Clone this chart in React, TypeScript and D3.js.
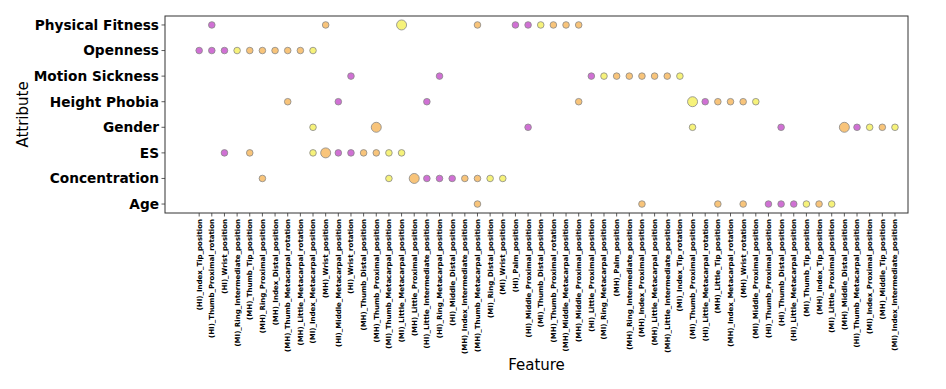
import React from 'react';
import * as d3 from 'd3';

// attributes top to bottom
const attributes = ['Physical Fitness', 'Openness', 'Motion Sickness', 'Height Phobia', 'Gender', 'ES', 'Concentration', 'Age'];

// x categories in axis order
const features = [
  '(HI)_Index_Tip_position', '(HI)_Thumb_Proximal_rotation', '(HI)_Wrist_position', '(MI)_Ring_Intermediate_position',
  '(MH)_Thumb_Tip_position', '(MH)_Ring_Proximal_position', '(MH)_Index_Distal_position', '(MH)_Thumb_Metacarpal_rotation',
  '(MH)_Little_Metacarpal_rotation', '(MI)_Index_Metacarpal_position', '(MH)_Wrist_position', '(HI)_Middle_Metacarpal_position',
  '(HI)_Wrist_rotation', '(MH)_Thumb_Distal_position', '(MH)_Thumb_Proximal_position', '(MI)_Thumb_Metacarpal_position',
  '(MI)_Little_Metacarpal_position', '(MH)_Little_Proximal_position', '(HI)_Little_Intermediate_position', '(HI)_Ring_Metacarpal_position',
  '(HI)_Middle_Distal_position', '(MH)_Index_Intermediate_position', '(MH)_Thumb_Metacarpal_position', '(MI)_Ring_Distal_position',
  '(MI)_Wrist_position', '(HI)_Palm_position', '(HI)_Middle_Proximal_position', '(MI)_Thumb_Distal_position',
  '(MH)_Thumb_Proximal_rotation', '(MH)_Middle_Metacarpal_position', '(MH)_Middle_Proximal_position', '(HI)_Little_Proximal_position',
  '(MI)_Ring_Metacarpal_position', '(MH)_Palm_position', '(MH)_Ring_Intermediate_position', '(MH)_Index_Proximal_position',
  '(MH)_Little_Metacarpal_position', '(MH)_Little_Intermediate_position', '(MI)_Index_Tip_rotation', '(MI)_Thumb_Proximal_position',
  '(HI)_Little_Metacarpal_rotation', '(MH)_Little_Tip_position', '(MH)_Index_Metacarpal_rotation', '(MH)_Wrist_rotation',
  '(MI)_Middle_Proximal_position', '(HI)_Thumb_Proximal_position', '(HI)_Thumb_Distal_position', '(HI)_Little_Metacarpal_position',
  '(MI)_Thumb_Tip_position', '(MH)_Index_Tip_position', '(MI)_Little_Proximal_position', '(MH)_Middle_Distal_position',
  '(HI)_Thumb_Metacarpal_position', '(MI)_Index_Proximal_position', '(MH)_Middle_Tip_position', '(MI)_Index_Intermediate_position',
];

// top features per attribute
const physicalFitness = ['(HI)_Thumb_Proximal_rotation', '(MH)_Wrist_position', '(MI)_Little_Metacarpal_position', '(MH)_Thumb_Metacarpal_position', '(HI)_Palm_position', '(HI)_Middle_Proximal_position', '(MI)_Thumb_Distal_position', '(MH)_Thumb_Proximal_rotation', '(MH)_Middle_Metacarpal_position', '(MH)_Middle_Proximal_position'];
const openness = ['(HI)_Index_Tip_position', '(HI)_Thumb_Proximal_rotation', '(HI)_Wrist_position', '(MI)_Ring_Intermediate_position', '(MH)_Thumb_Tip_position', '(MH)_Ring_Proximal_position', '(MH)_Index_Distal_position', '(MH)_Thumb_Metacarpal_rotation', '(MH)_Little_Metacarpal_rotation', '(MI)_Index_Metacarpal_position'];
const motionSickness = ['(HI)_Wrist_rotation', '(HI)_Ring_Metacarpal_position', '(HI)_Little_Proximal_position', '(MI)_Ring_Metacarpal_position', '(MH)_Palm_position', '(MH)_Ring_Intermediate_position', '(MH)_Index_Proximal_position', '(MH)_Little_Metacarpal_position', '(MH)_Little_Intermediate_position', '(MI)_Index_Tip_rotation'];
const heightPhobia = ['(MH)_Thumb_Metacarpal_rotation', '(HI)_Middle_Metacarpal_position', '(HI)_Little_Intermediate_position', '(MH)_Middle_Proximal_position', '(MI)_Thumb_Proximal_position', '(HI)_Little_Metacarpal_rotation', '(MH)_Little_Tip_position', '(MH)_Index_Metacarpal_rotation', '(MH)_Wrist_rotation', '(MI)_Middle_Proximal_position'];
const gender = ['(MI)_Index_Metacarpal_position', '(MH)_Thumb_Proximal_position', '(HI)_Middle_Proximal_position', '(MI)_Thumb_Proximal_position', '(HI)_Thumb_Distal_position', '(MH)_Middle_Distal_position', '(HI)_Thumb_Metacarpal_position', '(MI)_Index_Proximal_position', '(MH)_Middle_Tip_position', '(MI)_Index_Intermediate_position'];
const es = ['(HI)_Wrist_position', '(MH)_Thumb_Tip_position', '(MI)_Index_Metacarpal_position', '(MH)_Wrist_position', '(HI)_Middle_Metacarpal_position', '(HI)_Wrist_rotation', '(MH)_Thumb_Distal_position', '(MH)_Thumb_Proximal_position', '(MI)_Thumb_Metacarpal_position', '(MI)_Little_Metacarpal_position'];
const concentration = ['(MH)_Ring_Proximal_position', '(MI)_Thumb_Metacarpal_position', '(MH)_Little_Proximal_position', '(HI)_Little_Intermediate_position', '(HI)_Ring_Metacarpal_position', '(HI)_Middle_Distal_position', '(MH)_Index_Intermediate_position', '(MH)_Thumb_Metacarpal_position', '(MI)_Ring_Distal_position', '(MI)_Wrist_position'];
const age = ['(MH)_Thumb_Metacarpal_position', '(MH)_Index_Proximal_position', '(MH)_Little_Tip_position', '(MH)_Wrist_rotation', '(HI)_Thumb_Proximal_position', '(HI)_Thumb_Distal_position', '(HI)_Little_Metacarpal_position', '(MI)_Thumb_Tip_position', '(MH)_Index_Tip_position', '(MI)_Little_Proximal_position'];

// the few points drawn bigger
const bigPoints = [
  ['Physical Fitness', '(MI)_Little_Metacarpal_position'],
  ['Height Phobia', '(MI)_Thumb_Proximal_position'],
  ['Gender', '(MH)_Thumb_Proximal_position'],
  ['Gender', '(MH)_Middle_Distal_position'],
  ['ES', '(MH)_Wrist_position'],
  ['Concentration', '(MH)_Little_Proximal_position'],
];

const groups = ['HI', 'MH', 'MI'];
const groupColors = ['#d070d4', '#f8c47a', '#f6f27a'];

const W = 946, H = 389;
const left = 165, right = 908, top = 16, bottom = 213;

export default function App() {
  const lists = [physicalFitness, openness, motionSickness, heightPhobia, gender, es, concentration, age];
  const points = lists.flatMap((list, i) =>
    list.map(f => ({
      attr: attributes[i],
      feat: f,
      big: bigPoints.some(b => b[0] === attributes[i] && b[1] === f),
    }))
  );

  // categorical axes with matplotlib-like margins
  const n = features.length;
  const x = d3.scaleLinear().domain([-2.7, n - 1 + 1.03]).range([left, right]);
  const y = d3.scaleLinear().domain([-0.35, attributes.length - 1 + 0.35]).range([top, bottom]);
  const color = d3.scaleOrdinal<string, string>().domain(groups).range(groupColors);
  const r = d3.scaleOrdinal<string, number>().domain(['small', 'big']).range([3.3, 5]);

  const group = (f: string) => f.slice(1, 3);

  return (
    <svg width={W} height={H} style={{ position: 'absolute', left: 0, top: 0, fontFamily: 'DejaVu Sans' }}>
      <rect x={0} y={0} width={W} height={H} fill="#fff" />
      <rect x={left} y={top} width={right - left} height={bottom - top} fill="none" stroke="#333" strokeWidth={1} />

      {/* y axis */}
      {attributes.map((a, i) => (
        <g key={a} transform={`translate(${left},${y(i)})`}>
          <line x1={0} x2={-3.5} stroke="#333" strokeWidth={0.8} />
          <text x={-6} dy="0.35em" textAnchor="end" fontSize={13.7} fontWeight="bold">{a}</text>
        </g>
      ))}

      {/* x axis */}
      {features.map((f, i) => (
        <g key={f} transform={`translate(${x(i)},${bottom})`}>
          <line y1={0} y2={3.5} stroke="#333" strokeWidth={0.8} />
          <text transform="translate(0,6) rotate(-90)" dy="0.35em" textAnchor="end" fontSize={7} fontWeight="bold">{f}</text>
        </g>
      ))}

      {points.map((p, i) => (
        <circle
          key={i}
          cx={x(features.indexOf(p.feat))}
          cy={y(attributes.indexOf(p.attr))}
          r={r(p.big ? 'big' : 'small')}
          fill={color(group(p.feat))}
          stroke="#888"
          strokeWidth={0.8}
        />
      ))}

      <text x={(left + right) / 2} y={370} textAnchor="middle" fontSize={15}>Feature</text>
      <text transform={`translate(28,${(top + bottom) / 2}) rotate(-90)`} textAnchor="middle" fontSize={15}>Attribute</text>
    </svg>
  );
}
